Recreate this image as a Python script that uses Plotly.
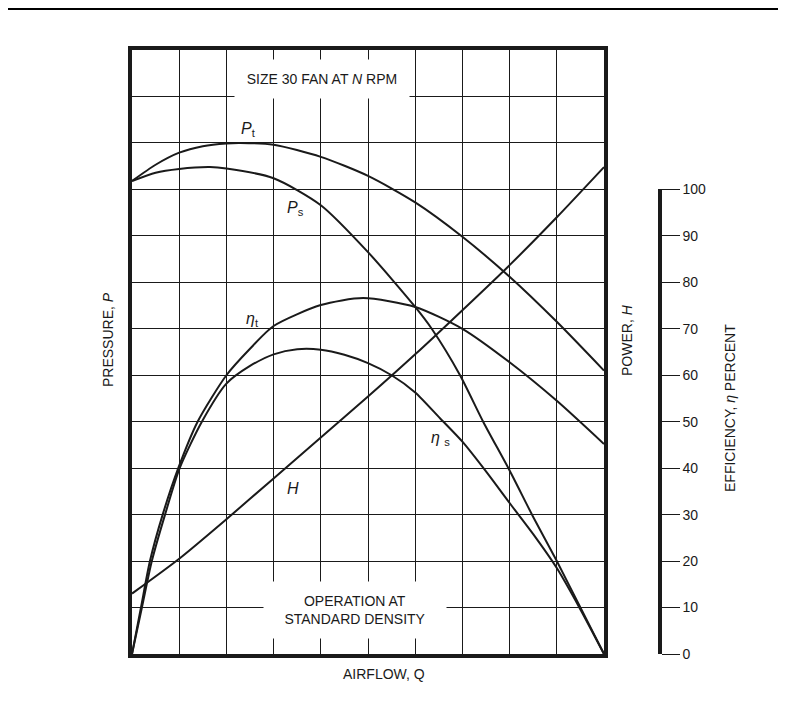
import plotly.graph_objects as go

# airflow in grid divisions (0..10), curve values in grid units (10 per row)
q_pt = [0, 0.5, 1, 1.5, 2, 2.3, 3, 4, 5, 6, 7, 8, 9, 10]
p_total = [101.8, 105.3, 107.9, 109.3, 109.9, 110, 109.6, 107, 102.9, 97.2, 89.8, 81.2, 71.5, 61]

q_ps = [0, 0.5, 1, 1.65, 2, 3, 4, 5, 6, 6.35, 6.95, 7.44, 8, 8.5, 9, 9.5, 10]
p_static = [101.8, 103.6, 104.4, 104.8, 104.5, 102.4, 96.6, 86.5, 74.7, 70, 60, 50, 39.5, 29.5, 20, 10, 0]

q_h = [0, 1, 2, 3, 4, 5, 6, 7, 8, 9, 10]
power = [13, 20.5, 29, 37.8, 46.6, 55.4, 64.5, 74, 83.7, 94, 104.8]

q_et = [0, 0.19, 0.38, 0.65, 0.98, 1.39, 2, 2.5, 3, 4, 4.9, 6, 7, 8, 9, 10]
eff_total = [0, 10, 20, 30, 40, 50, 60, 65.7, 70.6, 75.1, 76.6, 74.7, 70, 62.8, 54.5, 45.2]

q_es = [0, 0.21, 0.42, 0.7, 1.01, 1.48, 2, 2.5, 3, 3.5, 4, 4.5, 5, 5.5, 6, 6.53, 7, 7.5, 8, 8.5, 9, 9.5, 10]
eff_static = [0, 10, 20, 30, 40, 50, 58.2, 62, 64.5, 65.6, 65.5, 64.4, 62.6, 60, 56.3, 50.7,
              45.7, 39.3, 32.5, 25.8, 18.5, 9.6, 0]

eff_ticks = [0, 10, 20, 30, 40, 50, 60, 70, 80, 90, 100]

FONT = "Arial, Liberation Sans, sans-serif"
INK = "#1a1a1a"
line = dict(color=INK, width=2, shape="spline", smoothing=0.7)

fig = go.Figure()
fig.add_trace(go.Scatter(x=q_pt, y=p_total, mode="lines", line=line))
fig.add_trace(go.Scatter(x=q_ps, y=p_static, mode="lines", line=line))
fig.add_trace(go.Scatter(x=q_h, y=power, mode="lines", line=line))
fig.add_trace(go.Scatter(x=q_et, y=eff_total, mode="lines", line=line, yaxis="y2"))
fig.add_trace(go.Scatter(x=q_es, y=eff_static, mode="lines", line=line, yaxis="y2"))

# page body adds 8px around the figure, so margins are trimmed by that
W = 594.0  # paper width in px
fig.update_layout(
    width=778, height=715,
    margin=dict(l=124, r=60, t=42, b=69),
    paper_bgcolor="white", plot_bgcolor="rgba(0,0,0,0)",
    showlegend=False,
    font=dict(family=FONT, size=14, color=INK),
    xaxis=dict(range=[0, 10], domain=[0, 472 / W], dtick=1, showgrid=True,
               gridcolor=INK, gridwidth=1.3, showticklabels=False, ticks="",
               showline=True, linecolor=INK, linewidth=3.5, mirror=True,
               zeroline=False, fixedrange=True),
    yaxis=dict(range=[0, 130], dtick=10, showgrid=True, gridcolor=INK,
               gridwidth=1.3, showticklabels=False, ticks="", showline=True,
               linecolor=INK, linewidth=3.5, mirror=True, zeroline=False),
    yaxis2=dict(range=[0, 100], domain=[0, 100 / 130], anchor="free",
                position=(660 - 132) / W, side="right", tickvals=eff_ticks,
                ticks="outside", ticklen=18, tickwidth=1.3, tickcolor=INK,
                showline=True, linecolor=INK, linewidth=3.5, showgrid=False,
                zeroline=False, tickfont=dict(size=14, color=INK)),
)

ann = [
    dict(x=4.03, y=123.8, xref="x", yref="y", text="SIZE 30 FAN AT <i>N</i> RPM",
         bgcolor="white", width=172, height=36),
    dict(x=4.72, y=9.5, xref="x", yref="y",
         text="OPERATION AT<br>STANDARD DENSITY", bgcolor="white", width=180, height=54),
    dict(x=2.46, y=112.8, xref="x", yref="y", text="<i>P</i><sub>t</sub>", font=dict(size=16)),
    dict(x=3.47, y=95.8, xref="x", yref="y", text="<i>P</i><sub>s</sub>", font=dict(size=16)),
    dict(x=2.56, y=72.1, xref="x", yref="y", text="<i>η</i><sub>t</sub>", font=dict(size=16)),
    dict(x=6.53, y=46.3, xref="x", yref="y", text="<i>η</i> <sub>s</sub>", font=dict(size=16)),
    dict(x=3.41, y=35.7, xref="x", yref="y", text="<i>H</i>", font=dict(size=16)),
    dict(x=5.34, y=(654 - 674) / 604, xref="x", yref="paper", text="AIRFLOW, Q"),
    dict(x=(108 - 132) / W, y=(654 - 340) / 604, xref="paper", yref="paper",
         text="PRESSURE, <i>P</i>", textangle=-90),
    dict(x=(627 - 132) / W, y=(654 - 340) / 604, xref="paper", yref="paper",
         text="POWER, <i>H</i>", textangle=-90),
    dict(x=(730 - 132) / W, y=(654 - 408) / 604, xref="paper", yref="paper",
         text="EFFICIENCY, <i>η</i> PERCENT", textangle=-90),
]
for a in ann:
    a.setdefault("showarrow", False)
    a.setdefault("font", dict(size=14))
    a["font"]["color"] = INK
    a["font"]["family"] = FONT
    a["xanchor"] = "center"
    a["yanchor"] = "middle"
    fig.add_annotation(**a)

# rule across the top of the page
fig.add_shape(type="line", xref="paper", yref="paper", x0=-124 / W, x1=(778 - 124) / W,
              y0=(604 + 41) / 604, y1=(604 + 41) / 604, line=dict(color="black", width=2))

fig.write_html("out.html")
